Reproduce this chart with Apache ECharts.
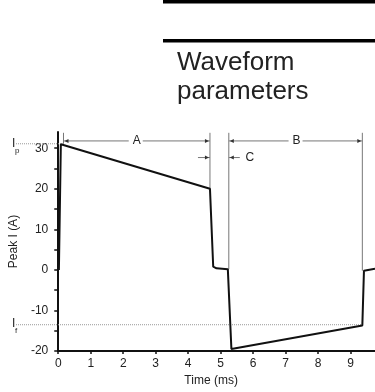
<!DOCTYPE html>
<html>
<head>
<meta charset="utf-8">
<script src="https://cdn.jsdelivr.net/npm/echarts@6.0.0/dist/echarts.min.js"></script>
<style>
  html, body { margin: 0; padding: 0; background: #fff; }
  #main { width: 375px; height: 392px; }
</style>
</head>
<body>
<div id="main"></div>
<script>
// waveform (time in ms, current in A)
const timeMs = [0.02, 0.08, 4.67, 4.77, 4.87, 5.22, 5.33, 9.36, 9.41, 9.75];
const peakA  = [0, 31, 20, 0.8, 0.4, 0.2, -19.5, -13.7, -0.2, 0.3];
const yLabels = [-20, -10, 0, 10, 20, 30];
const ipLevel = 31.1;   // I_p
const ifLevel = -13.5;  // I_f
// phase boundaries (ms) for the A / B / C markers
const phaseA = [0.1, 4.67];
const phaseB = [5.25, 9.36];
const dimLevel = 31.8;  // height of the A and B dimension lines
const cLevel = 27.7;    // height of the C arrows

const FONT = 'Liberation Sans, Arial, sans-serif';
const chart = echarts.init(document.getElementById('main'));

const option = {
  animation: false,
  grid: { left: 53, right: 0, top: 132, bottom: 36 },
  xAxis: {
    type: 'value',
    min: 0, max: 9.75, interval: 1,
    name: 'Time (ms)',
    nameLocation: 'middle',
    nameGap: 22,
    nameTextStyle: { color: '#222', fontSize: 12, fontFamily: FONT, padding: [0, 11, 0, 0] },
    axisLine: { onZero: false, lineStyle: { color: '#111', width: 2 } },
    axisTick: { length: 3, lineStyle: { color: '#111', width: 1.5 } },
    axisLabel: { color: '#222', fontSize: 12, fontFamily: FONT, margin: 7, showMaxLabel: false },
    splitLine: { show: false }
  },
  yAxis: {
    type: 'value',
    min: -20, max: 34, interval: 5,
    name: 'Peak I (A)',
    nameLocation: 'middle',
    nameGap: 31,
    nameTextStyle: { color: '#222', fontSize: 12, fontFamily: FONT },
    axisLine: { onZero: false, lineStyle: { color: '#111', width: 2 } },
    axisTick: { length: 4, lineStyle: { color: '#111', width: 1.5 } },
    axisLabel: {
      color: '#222', fontSize: 12, fontFamily: FONT, margin: 10, showMaxLabel: false,
      formatter: v => (yLabels.indexOf(v) >= 0 ? String(v) : '')
    },
    splitLine: { show: false }
  },
  series: [{
    type: 'line',
    data: timeMs.map((t, i) => [t, peakA[i]]),
    symbol: 'none',
    lineStyle: { color: '#111', width: 2 },
    z: 5
  }]
};
chart.setOption(option);

const px = (t, v) => chart.convertToPixel({ gridIndex: 0 }, [t, v]);
const topY = px(0, 33.8)[1];
const gray = '#777';
const g = [];

function line(x1, y1, x2, y2, color, dash, w) {
  g.push({ type: 'line', z: 3, shape: { x1, y1, x2, y2 },
    style: { stroke: color, lineWidth: w || 1, lineDash: dash || null } });
}
function arrow(x, y, dir) { // small triangle pointing left (-1) or right (1)
  g.push({ type: 'polygon', z: 4,
    shape: { points: [[x, y], [x - dir * 4, y - 2], [x - dir * 4, y + 2]] },
    style: { fill: '#333' } });
}
function text(x, y, s, size, align) {
  g.push({ type: 'text', z: 6, x, y,
    style: { text: s, fill: '#222', font: size + 'px ' + FONT, align: align || 'center', verticalAlign: 'middle' } });
}

// heading block
g.push({ type: 'rect', shape: { x: 163, y: 0, width: 212, height: 3.5 }, style: { fill: '#000' } });
g.push({ type: 'rect', shape: { x: 163, y: 39, width: 212, height: 3.5 }, style: { fill: '#000' } });
text(177, 63, 'Waveform', 26, 'left');
text(177, 92, 'parameters', 26, 'left');

// A dimension
const a0 = px(phaseA[0], dimLevel), a1 = px(phaseA[1], dimLevel);
line(a0[0] + 2, topY, a0[0] + 2, px(0, ipLevel)[1], gray);
line(a1[0], topY, a1[0], px(phaseA[1], 20)[1], gray);
line(a0[0] + 2, a0[1], a1[0], a1[1], gray);
arrow(a0[0] + 3, a0[1], -1); arrow(a1[0] - 1, a1[1], 1);
g.push({ type: 'rect', z: 5, shape: { x: (a0[0] + a1[0]) / 2 - 7, y: a0[1] - 6, width: 14, height: 12 }, style: { fill: '#fff' } });
text((a0[0] + a1[0]) / 2 + 1, a0[1], 'A', 12);

// B dimension
const b0 = px(phaseB[0], dimLevel), b1 = px(phaseB[1], dimLevel);
line(b0[0], topY, b0[0], px(0, 0.2)[1], gray);
line(b1[0], topY, b1[0], px(0, -0.2)[1], gray);
line(b0[0], b0[1], b1[0], b1[1], gray);
arrow(b0[0] + 1, b0[1], -1); arrow(b1[0] - 1, b1[1], 1);
g.push({ type: 'rect', z: 5, shape: { x: (b0[0] + b1[0]) / 2 - 7, y: b0[1] - 6, width: 14, height: 12 }, style: { fill: '#fff' } });
text((b0[0] + b1[0]) / 2 + 1, b0[1], 'B', 12);

// C arrows between the phases
const cy = px(0, cLevel)[1];
line(a1[0] - 12, cy, a1[0], cy, gray); arrow(a1[0] - 1, cy, 1);
line(b0[0], cy, b0[0] + 11, cy, gray); arrow(b0[0] + 1, cy, -1);
text(b0[0] + 21, cy, 'C', 12);

// I_p and I_f reference levels
const ipY = px(0, ipLevel)[1], ifY = px(0, ifLevel)[1];
line(16, ipY, a0[0] + 1, ipY, '#999', [1, 1]);
line(16, ifY, px(phaseB[1], 0)[0], ifY, '#999', [1, 1]);
text(12, ipY, 'I', 12, 'left'); text(15, ipY + 7, 'p', 8, 'left');
text(12, ifY - 1, 'I', 12, 'left'); text(15, ifY + 6, 'f', 8, 'left');

chart.setOption({ graphic: g });
</script>
</body>
</html>
